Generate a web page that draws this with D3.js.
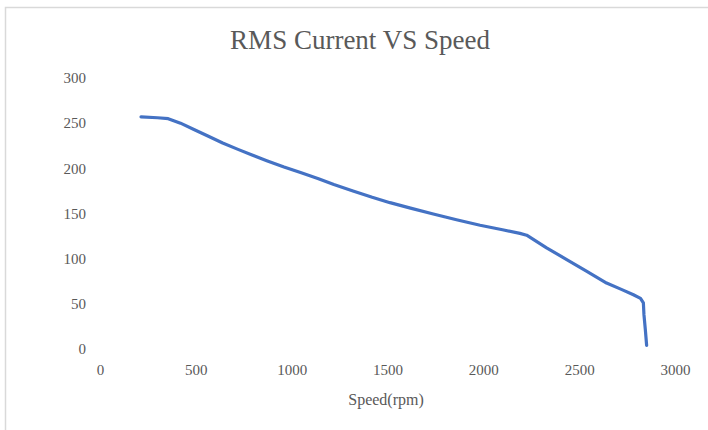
<!DOCTYPE html>
<html>
<head>
<meta charset="utf-8">
<script src="https://cdn.jsdelivr.net/npm/d3@7"></script>
<style>
  body { margin: 0; background: #fff; }
</style>
</head>
<body>
<div id="container"></div>
<script>
var speed = [214, 300, 356, 420, 490, 560, 640, 720, 790, 870, 960, 1050, 1140, 1220, 1320, 1420, 1513, 1620, 1739, 1860, 1983, 2100, 2191, 2226, 2330, 2435, 2540, 2643, 2720, 2783, 2820, 2835, 2838, 2845, 2852];
var current = [257, 256, 255, 250, 243, 236, 228, 221, 215, 208.5, 201.5, 195, 188.5, 182, 175, 168, 162, 156, 149.5, 143, 137, 132, 128, 126, 112, 99, 86, 73, 66, 60, 56, 51, 38, 22, 4];
var xTicks = [0, 500, 1000, 1500, 2000, 2500, 3000];
var yTicks = [0, 50, 100, 150, 200, 250, 300];

var width = 708, height = 430;
var serif = '"Liberation Serif", "Times New Roman", "DejaVu Serif", serif';

var svg = d3.select("#container").append("svg")
    .attr("width", width)
    .attr("height", height)
    .attr("font-family", serif);

// chart frame
svg.append("rect")
    .attr("x", 5.5)
    .attr("y", 7.5)
    .attr("width", width + 10)
    .attr("height", height + 10)
    .attr("fill", "#fff")
    .attr("stroke", "#d9d9d9")
    .attr("stroke-width", 1.5);

var x = d3.scaleLinear().domain([0, 3000]).range([100, 675]);
var y = d3.scaleLinear().domain([0, 300]).range([349, 78]);

svg.append("text")
    .attr("x", 360)
    .attr("y", 49)
    .attr("text-anchor", "middle")
    .attr("font-family", serif)
    .attr("font-size", 27)
    .attr("fill", "#595959")
    .text("RMS Current VS Speed");

var xAxis = svg.append("g")
    .attr("transform", "translate(0," + 364 + ")")
    .call(d3.axisBottom(x).tickValues(xTicks).tickSize(0).tickPadding(0).tickFormat(d3.format("d")));
var yAxis = svg.append("g")
    .attr("transform", "translate(" + 86 + ",0)")
    .call(d3.axisLeft(y).tickValues(yTicks).tickSize(0).tickPadding(0).tickFormat(d3.format("d")));

[xAxis, yAxis].forEach(function(a) {
    a.attr("font-family", serif).attr("font-size", 15);
    a.select(".domain").remove();
    a.selectAll("text").attr("fill", "#595959");
});

svg.append("text")
    .attr("x", 386)
    .attr("y", 405)
    .attr("text-anchor", "middle")
    .attr("font-family", serif)
    .attr("font-size", 16)
    .attr("fill", "#595959")
    .text("Speed(rpm)");

var pts = speed.map(function(s, i) { return [s, current[i]]; });

var line = d3.line()
    .x(function(d) { return x(d[0]); })
    .y(function(d) { return y(d[1]); });

svg.append("path")
    .datum(pts)
    .attr("d", line)
    .attr("fill", "none")
    .attr("stroke", "#4472c4")
    .attr("stroke-width", 3.2)
    .attr("stroke-linejoin", "round")
    .attr("stroke-linecap", "round");
</script>
</body>
</html>
